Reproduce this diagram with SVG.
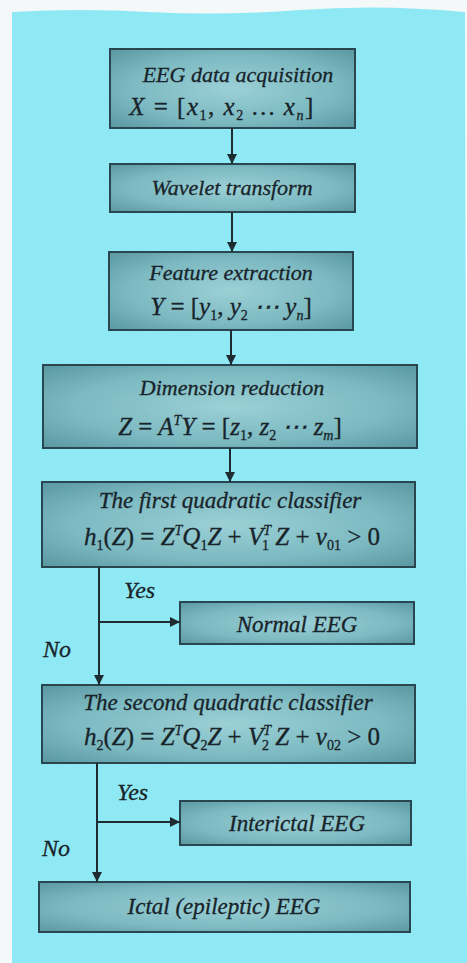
<svg xmlns="http://www.w3.org/2000/svg" width="467" height="963" viewBox="0 0 467 963">
<defs>
<radialGradient id="bx" cx="50%" cy="50%" r="70%">
<stop offset="0" stop-color="#9bd0d6"/>
<stop offset="0.6" stop-color="#7cb9c1"/>
<stop offset="1" stop-color="#5a98a2"/>
</radialGradient>
<marker id="ah" viewBox="0 0 10 10" refX="10" refY="5" markerWidth="5" markerHeight="5" orient="auto" markerUnits="strokeWidth">
<path d="M0,0 L10,5 L0,10 Z" fill="#1e2b30"/>
</marker>
<style>
.box{fill:url(#bx);stroke:#2a4650;stroke-width:2}
.t{font-style:italic;fill:#18242a;stroke:#18242a;stroke-width:0.3;text-anchor:middle}
.ti{font-size:22px}
.tb{font-size:23px}
.f{font-size:25px}
.up{font-style:normal}
.s{font-size:14px}
.lbl{font-style:italic;fill:#18242a;stroke:#18242a;stroke-width:0.3;font-size:24px}
.c{fill:none;stroke:#1e2b30;stroke-width:2}
</style>
</defs>
<rect width="467" height="963" fill="#f4f8f8"/>
<path d="M12,12 Q80,8 150,12 T300,10 T465,12 L467,963 L12,963 Z" fill="#8fe9f4"/>
<g font-family="'Liberation Serif', 'Times New Roman', serif">
<g id="n1">
<rect class="box" x="110" y="49" width="245" height="79"/>
<text class="t ti" x="238" y="82">EEG data acquisition</text>
<text class="t f" x="222" y="115" letter-spacing="1.5">X <tspan class="up">= [</tspan>x<tspan class="s up" dy="5">1</tspan><tspan class="up" dy="-5">, </tspan>x<tspan class="s up" dy="5">2</tspan><tspan dy="-5"> … </tspan>x<tspan class="s" dy="5">n</tspan><tspan class="up" dy="-5">]</tspan></text>
</g>

<g id="n2">
<rect class="box" x="110" y="164" width="245" height="48"/>
<text class="t ti" x="232" y="195">Wavelet transform</text>
</g>

<g id="n3">
<rect class="box" x="109" y="252" width="244" height="78"/>
<text class="t ti" x="231" y="280">Feature extraction</text>
<text class="t f" x="231" y="315">Y <tspan class="up">= [</tspan>y<tspan class="s up" dy="5">1</tspan><tspan class="up" dy="-5">, </tspan>y<tspan class="s up" dy="5">2</tspan><tspan dy="-5"> ⋯ </tspan>y<tspan class="s" dy="5">n</tspan><tspan class="up" dy="-5">]</tspan></text>
</g>

<g id="n4">
<rect class="box" x="43" y="365" width="374" height="83"/>
<text class="t ti" x="232" y="395">Dimension reduction</text>
<text class="t f" x="230" y="435">Z <tspan class="up">=</tspan> A<tspan class="s" dy="-10">T</tspan><tspan dy="10">Y </tspan><tspan class="up">= [</tspan>z<tspan class="s up" dy="5">1</tspan><tspan class="up" dy="-5">, </tspan>z<tspan class="s up" dy="5">2</tspan><tspan dy="-5"> ⋯ </tspan>z<tspan class="s" dy="5">m</tspan><tspan class="up" dy="-5">]</tspan></text>
</g>

<g id="n5">
<rect class="box" x="42" y="482" width="373" height="85"/>
<text class="t tb" x="230" y="508">The first quadratic classifier</text>
<text class="t f" x="232" y="545">h<tspan class="s up" dy="5">1</tspan><tspan class="up" dy="-5">(</tspan>Z<tspan class="up">) = </tspan>Z<tspan class="s" dy="-10">T</tspan><tspan dy="10">Q</tspan><tspan class="s up" dy="5">1</tspan><tspan dy="-5">Z </tspan><tspan class="up">+ </tspan>V<tspan class="s" dy="-10">T</tspan><tspan class="s up" dx="-9" dy="15">1</tspan><tspan dy="-5"> Z </tspan><tspan class="up">+ </tspan>v<tspan class="s up" dy="5">01</tspan><tspan class="up" dy="-5"> &gt; 0</tspan></text>
</g>

<g id="n6">
<rect class="box" x="180" y="602" width="234" height="42"/>
<text class="t tb" x="297" y="632">Normal EEG</text>
</g>

<g id="n7">
<rect class="box" x="42" y="685" width="373" height="78"/>
<text class="t tb" x="228" y="710">The second quadratic classifier</text>
<text class="t f" x="232" y="745">h<tspan class="s up" dy="5">2</tspan><tspan class="up" dy="-5">(</tspan>Z<tspan class="up">) = </tspan>Z<tspan class="s" dy="-10">T</tspan><tspan dy="10">Q</tspan><tspan class="s up" dy="5">2</tspan><tspan dy="-5">Z </tspan><tspan class="up">+ </tspan>V<tspan class="s" dy="-10">T</tspan><tspan class="s up" dx="-9" dy="15">2</tspan><tspan dy="-5"> Z </tspan><tspan class="up">+ </tspan>v<tspan class="s up" dy="5">02</tspan><tspan class="up" dy="-5"> &gt; 0</tspan></text>
</g>

<g id="n8">
<rect class="box" x="180" y="801" width="231" height="44"/>
<text class="t tb" x="297" y="831">Interictal EEG</text>
</g>

<g id="n9">
<rect class="box" x="39" y="882" width="371" height="50"/>
<text class="t tb" x="224" y="914">Ictal (epileptic) EEG</text>
</g>

<g id="connectors">
<line class="c" x1="232" y1="128" x2="232" y2="164" marker-end="url(#ah)"/>
<line class="c" x1="232" y1="212" x2="232" y2="252" marker-end="url(#ah)"/>
<line class="c" x1="231" y1="330" x2="231" y2="365" marker-end="url(#ah)"/>
<line class="c" x1="230" y1="448" x2="230" y2="482" marker-end="url(#ah)"/>
<line class="c" x1="99" y1="567" x2="99" y2="685" marker-end="url(#ah)"/>
<line class="c" x1="99" y1="622" x2="180" y2="622" marker-end="url(#ah)"/>
<line class="c" x1="97" y1="763" x2="97" y2="882" marker-end="url(#ah)"/>
<line class="c" x1="97" y1="822" x2="180" y2="822" marker-end="url(#ah)"/>
<text class="lbl" x="124" y="598">Yes</text>
<text class="lbl" x="43" y="657">No</text>
<text class="lbl" x="117" y="800">Yes</text>
<text class="lbl" x="42" y="856">No</text>
</g>
</g>
</svg>
